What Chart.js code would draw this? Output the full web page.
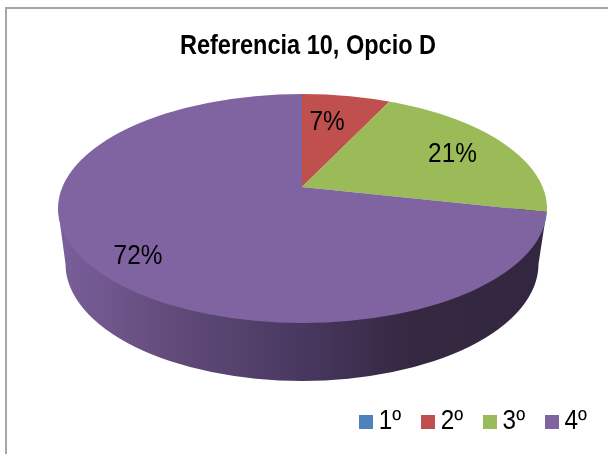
<!DOCTYPE html>
<html><head><meta charset="utf-8">
<style>
html,body{margin:0;padding:0;background:#fff;width:608px;height:454px;overflow:hidden}
#frame{position:absolute;left:5px;top:7px;width:620px;height:470px;border:2px solid #a6a6a6;box-sizing:border-box}
#c{position:absolute;left:0;top:0}
</style>
<script src="https://cdn.jsdelivr.net/npm/chart.js@4"></script>
</head><body>
<div id="frame"></div>
<canvas id="c" width="608" height="454"></canvas>
<script>
const categories = ['1º','2º','3º','4º'];
const values = [0,7,21,72];
const colors = ['#4f81bd','#c0504d','#9bbb59','#8064a2'];
const chartTitle = 'Referencia 10, Opcio D';

// 3D view of the pie
const view = {apexX:302, apexY:187, tiltY:0.466, skewY:0.0131, reach:340,
  top:{cx:302.5, cy:208.5, rx:244.5, ry:114.5},
  base:{cx:302, cy:264, rx:236.5, ry:117}};
const labelSpots = [null,{x:327,y:122},{x:452.5,y:154},{x:138,y:256}];
const labelFont = '28px "Liberation Sans"';
const narrow = {title:0.84, legend:0.9, label:0.87};
const titleShift = 308 - 304*narrow.title;
const legendShift = 66.35;

function legendSwatch(color){
  const off = document.createElement('canvas');
  off.width = 16; off.height = 14;
  const c = off.getContext('2d');
  c.fillStyle = color;
  c.fillRect(0,0,16,14);
  return off;
}

// The reference's type is condensed: squeeze a layout box horizontally as it draws.
function squeeze(box,f,shift){
  if(box._squeezed) return;
  box._squeezed = true;
  const draw = box.draw;
  box.draw = function(...args){
    const ctx = this.ctx;
    ctx.save();
    ctx.translate(shift,0);
    ctx.scale(f,1);
    draw.apply(this,args);
    ctx.restore();
  };
}

const pie3d = {
  id:'pie3d',
  afterLayout(chart){
    squeeze(chart.titleBlock,narrow.title,titleShift);
    squeeze(chart.legend,narrow.legend,legendShift);
  },
  beforeDatasetsDraw(chart){
    const ctx = chart.ctx, t = view.top, b = view.base;
    const g = ctx.createLinearGradient(t.cx-t.rx,0,t.cx+t.rx,0);
    g.addColorStop(0,'#7a5f9a');
    g.addColorStop(0.25,'#604a78');
    g.addColorStop(0.5,'#483860');
    g.addColorStop(0.72,'#352840');
    g.addColorStop(1,'#332640');
    ctx.save();
    ctx.beginPath();
    ctx.moveTo(t.cx-t.rx,t.cy);
    ctx.lineTo(b.cx-b.rx,b.cy);
    ctx.ellipse(b.cx,b.cy,b.rx,b.ry,0,Math.PI,0,true);
    ctx.lineTo(t.cx+t.rx,t.cy);
    ctx.closePath();
    ctx.fillStyle=g; ctx.fill();
    ctx.restore();
    const el = chart.getDatasetMeta(0).data[0];
    const s = view.reach/el.outerRadius;
    ctx.save();
    ctx.beginPath();
    ctx.ellipse(t.cx,t.cy,t.rx,t.ry,0,0,Math.PI*2);
    ctx.clip();
    ctx.translate(view.apexX,view.apexY);
    ctx.transform(s,s*view.skewY,0,s*view.tiltY,0,0);
    ctx.translate(-el.x,-el.y);
  },
  afterDatasetsDraw(chart){
    const ctx = chart.ctx;
    ctx.restore();
    values.forEach((v,i)=>{
      if(!labelSpots[i]) return;
      ctx.save();
      ctx.font=labelFont;
      ctx.fillStyle='#000';
      ctx.textAlign='center';
      ctx.textBaseline='middle';
      ctx.translate(labelSpots[i].x,labelSpots[i].y);
      ctx.scale(narrow.label,1);
      ctx.fillText(v+'%',0,0);
      ctx.restore();
    });
  }
};

new Chart(document.getElementById('c'),{
  type:'pie',
  data:{labels:categories,datasets:[{data:values,backgroundColor:colors,borderWidth:0,clip:false}]},
  plugins:[pie3d],
  options:{
    responsive:false,animation:false,
    events:[],
    layout:{padding:{top:29,right:0,bottom:9,left:0}},
    plugins:{
      tooltip:{enabled:false},
      title:{display:true,text:chartTitle,color:'#000',
        font:{family:'"Liberation Sans"',size:28,weight:'bold'},padding:{top:0,bottom:20}},
      legend:{position:'bottom',align:'end',
        labels:{usePointStyle:true,pointStyleWidth:1,boxWidth:1,boxHeight:14,padding:29.5,color:'#000',
          font:{family:'"Liberation Sans"',size:27},
          generateLabels(chart){
            return categories.map((text,index)=>({text,index,fillStyle:colors[index],strokeStyle:colors[index],
              lineWidth:0,fontColor:'#000',hidden:false,pointStyle:legendSwatch(colors[index])}));
          }}}
    }
  }
});
</script>
</body></html>
